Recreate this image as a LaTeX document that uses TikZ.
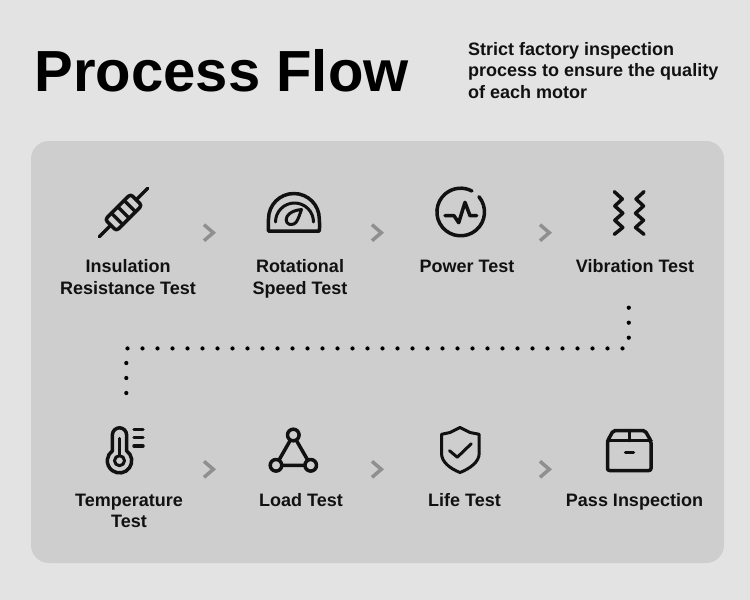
\documentclass[tikz,border=0pt]{standalone}
\usepackage{fontspec}
\setmainfont{Liberation Sans}
\usetikzlibrary{positioning}
\definecolor{pagecolor}{RGB}{227,227,227}
\definecolor{panelcolor}{RGB}{206,206,206}
\definecolor{inkcolor}{RGB}{17,17,17}
\definecolor{chevcolor}{RGB}{143,143,143}

\begin{document}
\begin{tikzpicture}[
  x=1pt,y=-1pt,
  iconline/.style={draw=inkcolor,line width=3.5pt,line cap=round,line join=round},
  thinline/.style={draw=inkcolor,line width=3pt,line cap=round,line join=round},
  steplabel/.style={font=\fontsize{18}{21.5}\selectfont\bfseries,align=center,text=inkcolor,inner sep=0pt},
  notelabel/.style={font=\fontsize{18}{21.5}\selectfont\bfseries,align=left,text=inkcolor,inner sep=0pt,anchor=north west},
  chev/.style={draw=chevcolor,line width=3.5pt,line join=miter},
  dotline/.style={draw=black,line width=4.2pt,line cap=round,dash pattern=on 0pt off 15pt},
]

% --- BACKGROUND ---
\fill[pagecolor] (0,0) rectangle (750,600);
\fill[panelcolor,rounded corners=18pt] (31,141) rectangle (724,563);

% --- HEADER ---
\node[font=\fontsize{58}{58}\selectfont\bfseries,text=black,inner sep=0pt,anchor=base west] (title) at (34.5,91) {Process Flow};
\node[notelabel] (note) at (468,42) {Strict factory inspection\\process to ensure the quality\\of each motor};

% --- STEP LABELS ---
\node[steplabel] (insul) at (128,277) {Insulation\\Resistance Test};
\node[steplabel] (speed) at (300,279) {Rotational\\Speed Test};
\node[steplabel] (power) at (467,266) {Power Test};
\node[steplabel] (vibr) at (635,266) {Vibration Test};
\node[steplabel] (temp) at (129,511) {Temperature\\Test};
\node[steplabel] (load) at (301,500) {Load Test};
\node[steplabel] (life) at (464.5,500) {Life Test};
\node[steplabel] (pass) at (634.5,502) {Pass Inspection};

% --- CHEVRONS ---
\foreach \cx in {204,372,540} {
  \foreach \cy in {232.7,469.3} {
    \draw[chev] (\cx,\cy-8) -- (\cx+9.3,\cy) -- (\cx,\cy+8);
  }
}

% --- DOTTED ROUTE ---
\coordinate (routea) at (628.8,307.7);
\coordinate (routeb) at (628.8,340);
\coordinate (routec) at (622.5,348.4);
\coordinate (routed) at (127,348.4);
\coordinate (routee) at (126.3,363);
\coordinate (routef) at (126.3,395);
\draw[dotline] (routea) -- (routeb);
\draw[dotline] (routec) -- (routed);
\draw[dotline] (routee) -- (routef);

% --- ICON: RESISTOR ---
\begin{scope}[shift={(123.5,212.5)},rotate=45]
  \draw[iconline] (-34,0) -- (-18,0) (18,0) -- (34,0);
  \draw[iconline,rounded corners=3pt] (-18,-8) rectangle (18,8);
  \draw[iconline] (-9,-8) -- (-9,8) (0,-8) -- (0,8) (9,-8) -- (9,8);
\end{scope}

% --- ICON: GAUGE ---
\draw[iconline] (268.5,231) -- (319.3,231) .. controls (319.8,226) and (319.5,222) .. (319.3,218.9)
  arc[start angle=0,end angle=-180,radius=25.4] .. controls (268.5,222) and (268.2,226) .. cycle;
\draw[thinline] (275.5,222) arc[start angle=180,end angle=360,radius=19];
\draw[thinline] (301.5,209.5) .. controls (296,210) and (289.5,212) .. (287,216.5)
  .. controls (284.5,221.5) and (288,225) .. (291.5,224.5) .. controls (296,224.5) and (297.5,220) .. (299,216.5) -- cycle;

% --- ICON: POWER ---
\draw[iconline] (460.7,212) ++(-40:23.8) arc[start angle=-40,end angle=298,radius=23.8];
\draw[iconline] (445,215.7) -- (454,215.7) -- (458.7,222.7) -- (465,202.3) -- (470,215.7) -- (476.7,215.7);

% --- ICON: VIBRATION ---
\draw[iconline] (614.3,191.7) -- (622.3,199) -- (614.8,206) -- (622.8,213.2) -- (614.8,220.3) -- (622.8,227.5) -- (614.3,234.3);
\draw[iconline] (644,191.7) -- (636,199) -- (643.5,206) -- (635.5,213.2) -- (643.5,220.3) -- (635.5,227.5) -- (644,234.3);

% --- ICON: THERMOMETER ---
\draw[iconline] (112.4,450.8) -- (112.4,434.9) arc[start angle=180,end angle=360,radius=7.1] -- (126.6,450.8)
  arc[start angle=-54.5,end angle=234.5,radius=12.2] -- cycle;
\draw[thinline] (119.5,460.7) circle[radius=5];
\draw[thinline] (119.5,438.3) -- (119.5,455);
\foreach \ty in {429.3,437.7,446} {
  \draw[iconline] (134,\ty) -- (143,\ty);
}

% --- ICON: TRIANGLE ---
\draw[iconline] (293.3,435) -- (276,465.3) -- (310.7,465.3) -- cycle;
\foreach \px/\py in {293.3/435,276/465.3,310.7/465.3} {
  \draw[iconline,fill=panelcolor] (\px,\py) circle[radius=5.8];
}

% --- ICON: SHIELD ---
\draw[thinline] (460,427.5) -- (470,432.5) -- (479.2,434.3) -- (479.2,453.3)
  .. controls (479.2,462) and (470,468.5) .. (460,472.5)
  .. controls (450,468.5) and (441.5,462) .. (441.5,453.3) -- (441.5,434.3) -- (450,432.5) -- cycle;
\draw[thinline] (449.5,450.7) -- (457.3,457.2) -- (471.2,443.8);

% --- ICON: BOX ---
\draw[iconline,rounded corners=2pt] (613.3,430.5) -- (645,430.5) -- (651,441) -- (651,470.5) -- (607.5,470.5) -- (607.5,441) -- cycle;
\draw[iconline] (607.5,440.5) -- (651,440.5) (629.3,430.5) -- (629.3,440.5) (625.5,452.3) -- (633.5,452.3);

\end{tikzpicture}
\end{document}
